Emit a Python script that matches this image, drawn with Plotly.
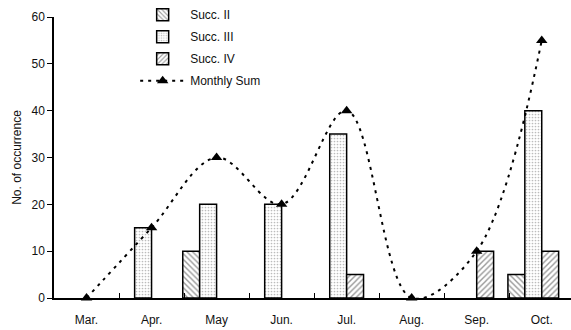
import plotly.graph_objects as go

months = ["Mar.", "Apr.", "May", "Jun.", "Jul.", "Aug.", "Sep.", "Oct."]
succ2 = [None, None, 10, None, None, None, None, 5]
succ3 = [None, 15, 20, 20, 35, None, None, 40]
succ4 = [None, None, None, None, 5, None, 10, 10]
monthly_sum = [0, 15, 30, 20, 40, 0, 10, 55]
y_ticks = [0, 10, 20, 30, 40, 50, 60]

font = dict(family="Liberation Sans, Arial, sans-serif", size=12, color="#111")
bw = 0.26
line_w = dict(color="black", width=1.5)

fig = go.Figure()
fig.add_trace(go.Bar(
    x=months, y=succ2, name="Succ. II", width=bw, offset=-2 * bw,
    marker=dict(color="white", line=line_w,
                pattern=dict(shape="\\", size=4, solidity=0.35, fgcolor="#333", bgcolor="white")),
    legendgroup="a"))
fig.add_trace(go.Bar(
    x=months, y=succ3, name="Succ. III", width=bw, offset=-bw,
    marker=dict(color="white", line=line_w,
                pattern=dict(shape=".", size=3, solidity=0.25, fgcolor="#777", bgcolor="white")),
    legendgroup="b"))
fig.add_trace(go.Bar(
    x=months, y=succ4, name="Succ. IV", width=bw, offset=0,
    marker=dict(color="white", line=line_w,
                pattern=dict(shape="/", size=4, solidity=0.35, fgcolor="#333", bgcolor="white")),
    legendgroup="c"))
fig.add_trace(go.Scatter(
    x=months, y=monthly_sum, name="Monthly Sum", mode="lines+markers",
    line=dict(color="black", width=2, dash="3px,5px", shape="spline", smoothing=1),
    marker=dict(symbol="triangle-up", size=10, color="black"),
    cliponaxis=False, legendgroup="d"))

fig.update_layout(
    width=571, height=330,
    margin=dict(l=54, r=0, t=5, b=32, autoexpand=False),
    paper_bgcolor="white", plot_bgcolor="white",
    font=font,
    barmode="overlay",
    showlegend=True,
    legend=dict(x=0.157, y=1.016, xanchor="left", yanchor="top",
                bgcolor="rgba(0,0,0,0)", font=dict(size=12),
                tracegroupgap=3, itemwidth=45, traceorder="grouped"),
)
fig.update_xaxes(
    type="category", range=[-0.5, 7.45], automargin=False,
    showline=True, linecolor="black", linewidth=1.5,
    ticks="inside", ticklen=5, tickcolor="black", tickson="boundaries",
    ticklabelstandoff=10,
    showgrid=False, tickfont=font,
)
fig.update_yaxes(
    range=[0, 60], tickvals=y_ticks, domain=[0, 0.959], automargin=False,
    showline=True, linecolor="black", linewidth=1.5,
    ticks="outside", ticklen=5, tickcolor="black",
    showgrid=False, zeroline=False, tickfont=font,
    title=dict(text="No. of occurrence", font=font, standoff=7),
)

fig.write_html("out.html", config={"displayModeBar": False},
               post_script="document.body.style.margin='0';")
